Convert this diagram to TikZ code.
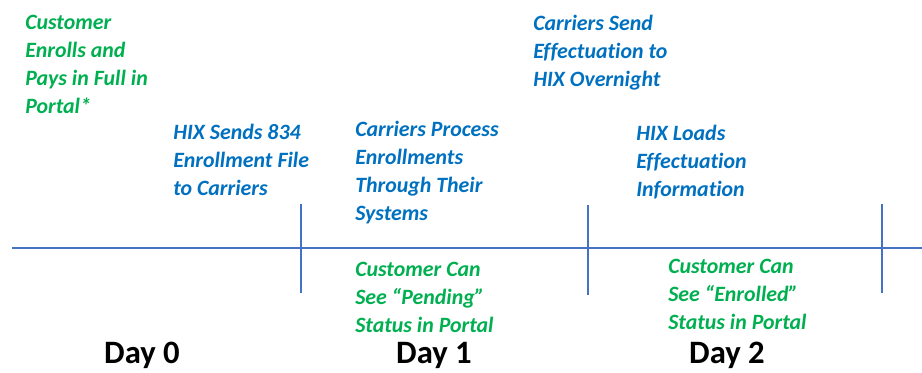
\documentclass[tikz,border=0pt]{standalone}
\usepackage{fontspec}
\setmainfont[Ligatures=NoCommon]{Carlito}
\usetikzlibrary{positioning}
\definecolor{custgreen}{RGB}{0,176,80}
\definecolor{hixblue}{RGB}{0,112,192}
\definecolor{axisblue}{RGB}{68,114,196}

\begin{document}
\begin{tikzpicture}
[x=0.75pt,y=-0.75pt,
cust/.style={anchor=north west, inner sep=0pt, align=left, text=custgreen,
  font=\fontsize{16.4}{21}\selectfont\bfseries\itshape},
hix/.style={cust, text=hixblue},
daylabel/.style={anchor=base, inner sep=0pt, font=\fontsize{24.5}{30}\selectfont\bfseries},
axis/.style={draw=axisblue, line width=1.1pt}]
\useasboundingbox (0,0) rectangle (922,372);

% timeline and day ticks
\coordinate (tstart) at (12,248);
\coordinate (tend) at (922,248);
\draw[axis] (tstart) -- (tend);
\coordinate (d1top) at (301,204);
\coordinate (d1bot) at (301,293);
\coordinate (d2top) at (588,205);
\coordinate (d2bot) at (588,295);
\coordinate (d3top) at (882,204);
\coordinate (d3bot) at (882,293);
\draw[axis] (d1top) -- (d1bot);
\draw[axis] (d2top) -- (d2bot);
\draw[axis] (d3top) -- (d3bot);

% events above the line
\node[cust] (enroll) at (25,15) {Customer\\Enrolls and\\Pays in Full in\\Portal*};
\node[hix] (send834) at (173,124) {HIX Sends 834\\Enrollment File\\to Carriers};
\node[hix] (process) at (355,121) {Carriers Process\\Enrollments\\Through Their\\Systems};
\node[hix] (effsend) at (533,15) {Carriers Send\\Effectuation to\\HIX Overnight};
\node[hix] (effload) at (636,125) {HIX Loads\\Effectuation\\Information};

% status below the line
\node[cust] (pending) at (355,262) {Customer Can\\See “Pending”\\Status in Portal};
\node[cust] (enrolled) at (668,259) {Customer Can\\See “Enrolled”\\Status in Portal};

\node[daylabel] (day0) at (142,363) {Day 0};
\node[daylabel] (day1) at (434,363) {Day 1};
\node[daylabel] (day2) at (727,363) {Day 2};
\end{tikzpicture}
\end{document}
